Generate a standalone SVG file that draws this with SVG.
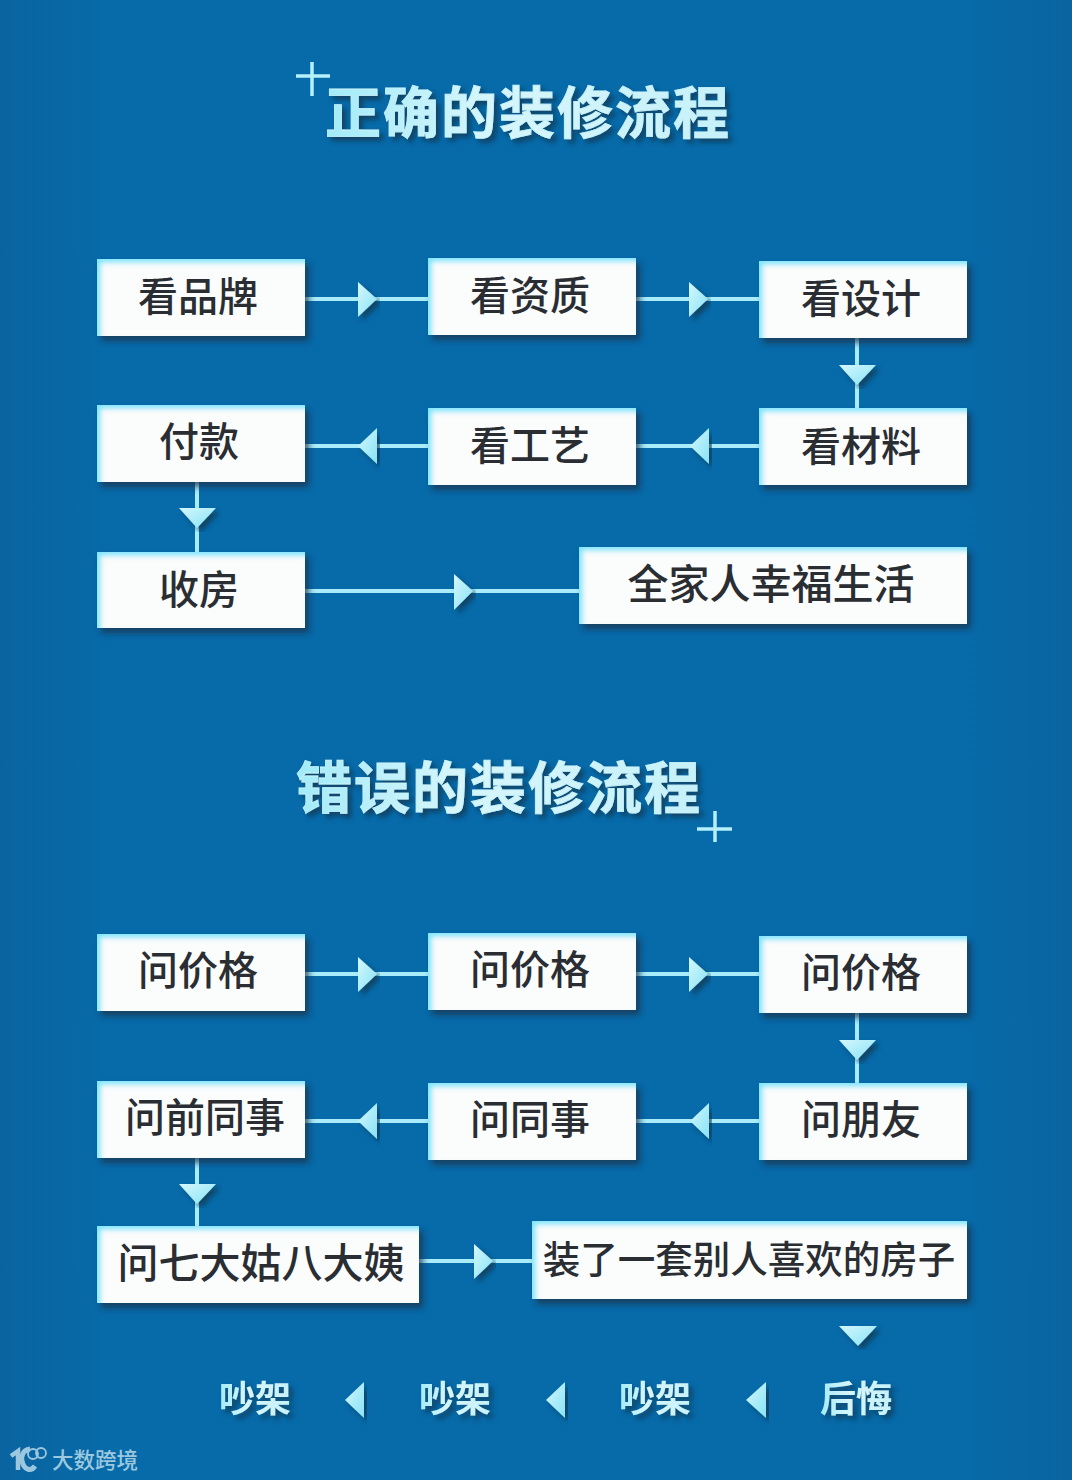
<svg xmlns="http://www.w3.org/2000/svg" width="1072" height="1480" viewBox="0 0 1072 1480">
<style>
.box{fill:#fbfcfc;filter:url(#boxShadow)}
.t{font-family:"Noto Sans CJK SC","Noto Sans",sans-serif;font-size:40px;font-weight:500;fill:#2a2e33;text-anchor:middle}
.title{font-family:"Noto Sans CJK SC","Noto Sans",sans-serif;font-size:56px;font-weight:700;letter-spacing:2px;fill:url(#titleFill);stroke:#c8f3fb;stroke-width:.8;filter:url(#softShadow);text-anchor:middle}
.foot{font-family:"Noto Sans CJK SC","Noto Sans",sans-serif;font-size:36px;font-weight:700;fill:url(#titleFill);filter:url(#softShadow);text-anchor:middle}
.wm{font-family:"Noto Sans CJK SC","Noto Sans",sans-serif;font-size:21.500px;font-weight:500;fill:#9cc8df}
.line{stroke:#a9ecfa;stroke-width:4;fill:none}
.head{fill:url(#headFill);filter:url(#softShadow)}
.plus{stroke:#b5f0fb;stroke-width:3.500;fill:none}
</style>
<defs>
<linearGradient id="bg" x1="0" y1="0" x2="1" y2="0">
<stop offset="0" stop-color="#0a649f"/><stop offset=".1" stop-color="#076aa9"/><stop offset=".9" stop-color="#076aa9"/><stop offset="1" stop-color="#0a649f"/>
</linearGradient>
<linearGradient id="titleFill" x1="0" y1="0" x2="1" y2="0">
<stop offset="0" stop-color="#a2ebf9"/><stop offset=".4" stop-color="#d6f6fb"/><stop offset="1" stop-color="#c6f1f9"/>
</linearGradient>
<linearGradient id="headFill" x1="0" y1="0" x2="1" y2="1">
<stop offset="0" stop-color="#d5f7fc"/><stop offset="1" stop-color="#86e3f6"/>
</linearGradient>
<filter id="boxShadow" x="-10%" y="-15%" width="120%" height="135%">
<feDropShadow in="SourceAlpha" dx="4" dy="5" stdDeviation="3" flood-color="#1b3348" flood-opacity=".75" result="shadow"/>
<feOffset in="SourceAlpha" dx="4" dy="4" result="off"/>
<feGaussianBlur in="off" stdDeviation="2.500" result="blur"/>
<feComposite in="SourceAlpha" in2="blur" operator="out" result="edge"/>
<feFlood flood-color="#7fe6fb"/>
<feComposite in2="edge" operator="in" result="glow"/>
<feMerge><feMergeNode in="shadow"/><feMergeNode in="SourceGraphic"/><feMergeNode in="glow"/></feMerge>
</filter>
<filter id="softShadow" x="-15%" y="-20%" width="130%" height="140%">
<feDropShadow dx="4" dy="4" stdDeviation="2.500" flood-color="#16304a" flood-opacity=".7"/>
</filter>
</defs>
<rect id="background" width="1072" height="1480" fill="url(#bg)"/>

<g id="connectors">
<g id="connectors-correct">
<path class="line" d="M305 299H428M636 299H759M857 338V408M636 446H759M305 446H428M197 482V552M305 591H579"/>
<path class="head" d="M358 282L377 299L358 317Z"/>
<path class="head" d="M689 282L708 299L689 317Z"/>
<path class="head" d="M839 365H876L857 385Z"/>
<path class="head" d="M709 428L690 446L709 464Z"/>
<path class="head" d="M377 428L358 446L377 464Z"/>
<path class="head" d="M179 508H216L197 528Z"/>
<path class="head" d="M454 574L473 591L454 610Z"/>
</g>
<g id="connectors-wrong">
<path class="line" d="M305 974H428M636 974H759M857 1013V1083M636 1121H759M305 1121H428M197 1158V1226M419 1261H532"/>
<path class="head" d="M358 957L377 974L358 992Z"/>
<path class="head" d="M689 957L708 974L689 992Z"/>
<path class="head" d="M839 1040H876L857 1060Z"/>
<path class="head" d="M709 1103L690 1121L709 1139Z"/>
<path class="head" d="M377 1103L358 1121L377 1139Z"/>
<path class="head" d="M179 1184H216L197 1204Z"/>
<path class="head" d="M474 1244L493 1261L474 1279Z"/>
<path class="head" d="M839 1326H877L858 1346Z"/>
<path class="head" d="M364 1382L345 1400L364 1418Z"/>
<path class="head" d="M565 1382L546 1400L565 1418Z"/>
<path class="head" d="M766 1382L746 1400L766 1418Z"/>
</g>
</g>

<g id="title-correct">
<path class="plus" d="M296 76H330M312 62V96"/>
<text class="title" x="528" y="133">正确的装修流程</text>
</g>
<g id="title-wrong">
<path class="plus" d="M697 829H732M715 811V842"/>
<text class="title" x="499" y="808">错误的装修流程</text>
</g>

<g id="n1"><rect class="box" x="97" y="259" width="208" height="77"/><text class="t" x="198" y="311">看品牌</text></g>
<g id="n2"><rect class="box" x="428" y="258" width="208" height="77"/><text class="t" x="530" y="310">看资质</text></g>
<g id="n3"><rect class="box" x="759" y="261" width="208" height="77"/><text class="t" x="861" y="313">看设计</text></g>
<g id="n4"><rect class="box" x="759" y="408" width="208" height="77"/><text class="t" x="861" y="461">看材料</text></g>
<g id="n5"><rect class="box" x="428" y="408" width="208" height="77"/><text class="t" x="530" y="460">看工艺</text></g>
<g id="n6"><rect class="box" x="97" y="405" width="208" height="77"/><text class="t" x="199" y="456">付款</text></g>
<g id="n7"><rect class="box" x="97" y="552" width="208" height="76"/><text class="t" x="199" y="604">收房</text></g>
<g id="n8"><rect class="box" x="579" y="547" width="388" height="77"/><text class="t" x="771" y="599" style="font-size:41px">全家人幸福生活</text></g>

<g id="w1"><rect class="box" x="97" y="934" width="208" height="77"/><text class="t" x="198" y="985">问价格</text></g>
<g id="w2"><rect class="box" x="428" y="933" width="208" height="77"/><text class="t" x="530" y="984">问价格</text></g>
<g id="w3"><rect class="box" x="759" y="936" width="208" height="77"/><text class="t" x="861" y="987">问价格</text></g>
<g id="w4"><rect class="box" x="759" y="1083" width="208" height="77"/><text class="t" x="861" y="1134">问朋友</text></g>
<g id="w5"><rect class="box" x="428" y="1083" width="208" height="77"/><text class="t" x="530" y="1134">问同事</text></g>
<g id="w6"><rect class="box" x="97" y="1081" width="208" height="77"/><text class="t" x="205" y="1132">问前同事</text></g>
<g id="w7"><rect class="box" x="97" y="1226" width="322" height="77"/><text class="t" x="261" y="1278" style="font-size:41px">问七大姑八大姨</text></g>
<g id="w8"><rect class="box" x="532" y="1221" width="435" height="78"/><text class="t" x="749" y="1273" style="font-size:37.500px">装了一套别人喜欢的房子</text></g>

<g id="footer">
<text class="foot" x="255" y="1412">吵架</text>
<text class="foot" x="455" y="1412">吵架</text>
<text class="foot" x="655" y="1412">吵架</text>
<text class="foot" x="856" y="1412">后悔</text>
</g>

<g id="watermark">
<path d="M11 1456L18 1451V1470" fill="none" stroke="#9cc8df" stroke-width="4.500"/>
<path d="M30 1449C22 1450 21 1458 22 1461C24 1470 31 1472 35 1466" fill="none" stroke="#9cc8df" stroke-width="5"/>
<circle cx="33" cy="1454" r="5" fill="none" stroke="#9cc8df" stroke-width="1.800"/>
<circle cx="41" cy="1453" r="5" fill="none" stroke="#9cc8df" stroke-width="1.800"/>
<text class="wm" x="52" y="1468">大数跨境</text>
</g>
</svg>
